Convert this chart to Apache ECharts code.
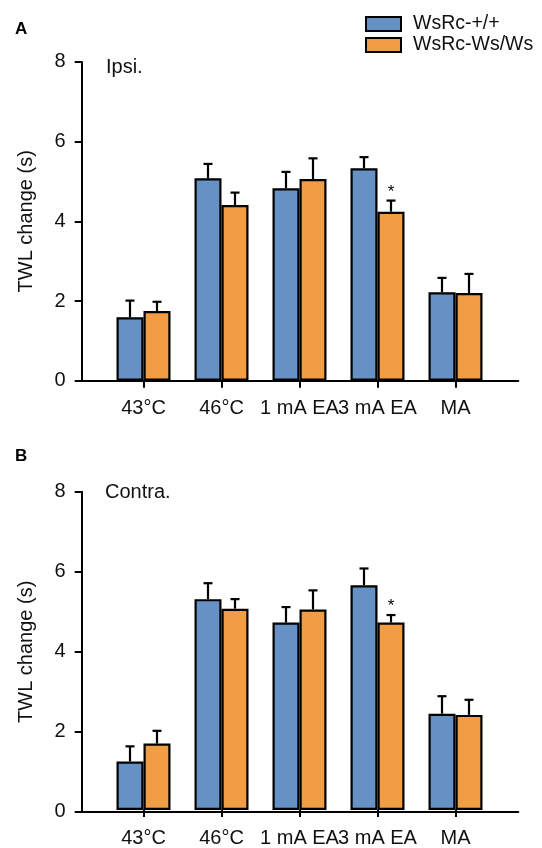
<!DOCTYPE html>
<html>
<head>
<meta charset="utf-8">
<script src="https://cdn.jsdelivr.net/npm/echarts@6/dist/echarts.min.js"></script>
<style>
  html, body { margin: 0; padding: 0; background: #fff; }
  #main { width: 542px; height: 848px; }
</style>
</head>
<body>
<div id="main"></div>
<script>
var categories = ['43°C', '46°C', '1 mA EA', '3 mA EA', 'MA'];
var seriesNames = ['WsRc-+/+', 'WsRc-Ws/Ws'];
var yTicks = [0, 2, 4, 6, 8];

// Ipsi. (panel A)
var ipsiWild = [1.59, 5.08, 4.83, 5.33, 2.22];
var ipsiWildSem = [0.42, 0.36, 0.41, 0.28, 0.36];
var ipsiWs = [1.75, 4.41, 5.06, 4.24, 2.20];
var ipsiWsSem = [0.23, 0.31, 0.52, 0.28, 0.48];
var ipsiSig = [0, 0, 0, 1, 0];

// Contra. (panel B)
var contraWild = [1.22, 5.30, 4.71, 5.65, 2.42];
var contraWildSem = [0.38, 0.40, 0.39, 0.42, 0.44];
var contraWs = [1.67, 5.06, 5.04, 4.71, 2.39];
var contraWsSem = [0.32, 0.24, 0.48, 0.19, 0.38];
var contraSig = [0, 0, 0, 1, 0];

var FONT = 'Liberation Sans, Arial, sans-serif';
var BLUE = '#6691c5';
var ORANGE = '#f09d43';
var BAR_W = 27;

var chart = echarts.init(document.getElementById('main'));

function errData(means, sems) {
    return means.map(function (m, i) { return [i, m, m + sems[i]]; });
}

function errRenderer(offset, sigs, starGap) {
    return function (params, api) {
        var i = api.value(0);
        var top = api.coord([i, api.value(1)]);
        var end = api.coord([i, api.value(2)]);
        var x = top[0] + offset;
        var style = { stroke: '#000', lineWidth: 2.2 };
        var children = [
            { type: 'line', shape: { x1: x, y1: top[1], x2: x, y2: end[1] }, style: style },
            { type: 'line', shape: { x1: x - 4.5, y1: end[1], x2: x + 4.5, y2: end[1] }, style: style }
        ];
        if (sigs && sigs[i]) {
            children.push({
                type: 'text', x: x, y: end[1] - starGap,
                style: { text: '*', fontSize: 17, fontFamily: FONT, fill: '#000', align: 'center', verticalAlign: 'middle' }
            });
        }
        return { type: 'group', children: children };
    };
}

// frame grid draws the long axis lines, data grid holds the bars
var panels = [
    { top: 61.9, bottom: 467.3, wild: ipsiWild, wildSem: ipsiWildSem, ws: ipsiWs, wsSem: ipsiWsSem, sig: ipsiSig, star: 8 },
    { top: 491.7, bottom: 36.1, wild: contraWild, wildSem: contraWildSem, ws: contraWs, wsSem: contraWsSem, sig: contraSig, star: 9 }
];

var grids = [], xAxes = [], yAxes = [], series = [];
panels.forEach(function (p, k) {
    var fi = k * 2, di = k * 2 + 1;
    grids.push({ left: 81.7, right: 23.7, top: p.top, bottom: p.bottom });
    grids.push({ left: 104.5, right: 47.5, top: p.top, bottom: p.bottom });

    xAxes.push({
        gridIndex: fi, type: 'value', min: 0, max: 1,
        axisLine: { lineStyle: { color: '#000', width: 2 } },
        axisTick: { show: false }, axisLabel: { show: false }, splitLine: { show: false }
    });
    xAxes.push({
        gridIndex: di, type: 'category', data: categories,
        axisLine: { show: false },
        axisTick: { show: true, alignWithLabel: true, length: 7, lineStyle: { color: '#000', width: 2 } },
        axisLabel: { fontSize: 20, fontFamily: FONT, color: '#111', margin: 18, interval: 0 },
        splitLine: { show: false }
    });
    yAxes.push({
        gridIndex: fi, type: 'value', min: yTicks[0], max: yTicks[yTicks.length - 1], interval: 2,
        name: 'TWL change (s)', nameLocation: 'middle', nameGap: 45,
        nameTextStyle: { fontSize: 20, fontFamily: FONT, color: '#111' },
        axisLine: { show: true, lineStyle: { color: '#000', width: 2 } },
        axisTick: { show: true, length: 7, lineStyle: { color: '#000', width: 2 } },
        axisLabel: { fontSize: 20, fontFamily: FONT, color: '#111', margin: 16 },
        splitLine: { show: false }
    });
    yAxes.push({
        gridIndex: di, type: 'value', min: yTicks[0], max: yTicks[yTicks.length - 1], show: false
    });

    var barStyle = function (c) {
        return { color: c, borderColor: '#000', borderWidth: 2.2 };
    };
    series.push({
        name: seriesNames[0], type: 'bar', xAxisIndex: di, yAxisIndex: di,
        data: p.wild, barWidth: BAR_W, barGap: '0%', itemStyle: barStyle(BLUE), z: 2
    });
    series.push({
        name: seriesNames[1], type: 'bar', xAxisIndex: di, yAxisIndex: di,
        data: p.ws, barWidth: BAR_W, barGap: '0%', itemStyle: barStyle(ORANGE), z: 2
    });
    series.push({
        type: 'custom', xAxisIndex: di, yAxisIndex: di, z: 3,
        data: errData(p.wild, p.wildSem), renderItem: errRenderer(-BAR_W / 2, null, 0)
    });
    series.push({
        type: 'custom', xAxisIndex: di, yAxisIndex: di, z: 3,
        data: errData(p.ws, p.wsSem), renderItem: errRenderer(BAR_W / 2, p.sig, p.star)
    });
});

chart.setOption({
    backgroundColor: '#fff',
    animation: false,
    title: [
        { text: 'A', left: 15, top: 21, padding: 0, textStyle: { fontSize: 17, fontWeight: 'bold', fontFamily: FONT, color: '#000' } },
        { text: 'Ipsi.', left: 106, top: 57, padding: 0, textStyle: { fontSize: 20, fontWeight: 'normal', fontFamily: FONT, color: '#111' } },
        { text: 'B', left: 15, top: 448, padding: 0, textStyle: { fontSize: 17, fontWeight: 'bold', fontFamily: FONT, color: '#000' } },
        { text: 'Contra.', left: 105, top: 482, padding: 0, textStyle: { fontSize: 20, fontWeight: 'normal', fontFamily: FONT, color: '#111' } }
    ],
    legend: {
        data: seriesNames, orient: 'vertical', left: 365, top: 14, padding: 0,
        itemWidth: 35, itemHeight: 14, itemGap: 1, icon: 'rect', selectedMode: false,
        itemStyle: { borderColor: '#000', borderWidth: 2 },
        textStyle: { fontSize: 19.5, fontFamily: FONT, color: '#111', padding: [0, 0, 0, 7] }
    },
    grid: grids,
    xAxis: xAxes,
    yAxis: yAxes,
    series: series
});
</script>
</body>
</html>
